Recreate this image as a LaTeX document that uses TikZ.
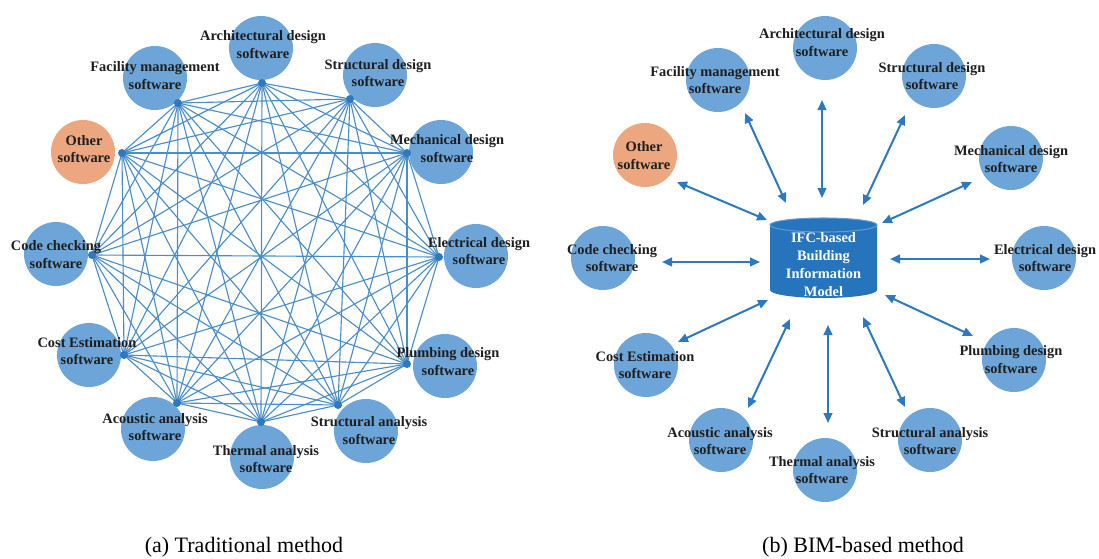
\documentclass[tikz,border=0pt]{standalone}
\usepackage{fontspec}
\setmainfont{Liberation Serif}
\usetikzlibrary{arrows.meta}
\definecolor{circ}{HTML}{6DA5D8}
\definecolor{orng}{HTML}{EDA780}
\definecolor{webc}{HTML}{4A8DCB}
\definecolor{arrc}{HTML}{2D78BE}
\definecolor{cylc}{HTML}{2574BC}
\definecolor{cyltop}{HTML}{5E9BD3}
\definecolor{txt}{HTML}{1E1E1E}
\tikzset{
  soft/.style={circle, fill=circ, draw=none, minimum size=48pt, inner sep=0pt},
  softo/.style={soft, fill=orng},
  lbl/.style={align=center, font=\fontsize{10.8}{13}\selectfont\bfseries, text=txt, inner sep=0pt},
  web/.style={draw=webc, line width=0.85pt},
  dotmark/.style={fill=arrc},
  biarrow/.style={draw=arrc, line width=1.5pt, arrows={Triangle[length=7.5pt,width=6.5pt]-Triangle[length=7.5pt,width=6.5pt]}},
  captxt/.style={font=\fontsize{16.5}{19}\selectfont, inner sep=0pt}
}
\begin{document}
\begin{tikzpicture}[x=0.75pt,y=-0.75pt]
\useasboundingbox (0,0) rectangle (1099,558);
\fill[white] (0,0) rectangle (1099,558);

% ================= (a) Traditional method =================
\node[soft]  (lc1)  at (261,48)  {};
\node[soft]  (lc2)  at (375,75)  {};
\node[soft]  (lc3)  at (441,152) {};
\node[soft]  (lc4)  at (476,256) {};
\node[soft]  (lc5)  at (445,366) {};
\node[soft]  (lc6)  at (366,431) {};
\node[soft]  (lc7)  at (262,457) {};
\node[soft]  (lc8)  at (153,429) {};
\node[soft]  (lc9)  at (89,355)  {};
\node[soft]  (lc10) at (56,254)  {};
\node[softo] (lc11) at (83,152)  {};
\node[soft]  (lc12) at (155,78)  {};

\coordinate (la1)  at (262,83);
\coordinate (la2)  at (350,99);
\coordinate (la3)  at (407,153);
\coordinate (la4)  at (439,257);
\coordinate (la5)  at (407,364);
\coordinate (la6)  at (338,405);
\coordinate (la7)  at (261,422);
\coordinate (la8)  at (177,403);
\coordinate (la9)  at (124,355);
\coordinate (la10) at (92,255);
\coordinate (la11) at (122,153);
\coordinate (la12) at (178,103);

\foreach \i in {1,...,11}{
  \pgfmathtruncatemacro\jfirst{\i+1}
  \foreach \j in {\jfirst,...,12}{
    \draw[web] (la\i) -- (la\j);
  }
}
\foreach \i in {1,...,12}{\fill[dotmark] (la\i) circle[radius=4];}

\node[lbl] (lt1)  at (263,44.5)  {Architectural design\\software};
\node[lbl] (lt2)  at (378,73)    {Structural design\\software};
\node[lbl] (lt3)  at (447,148.5) {Mechanical design\\software};
\node[lbl] (lt4)  at (479,251)   {Electrical design\\software};
\node[lbl] (lt5)  at (448,361.5) {Plumbing design\\software};
\node[lbl] (lt6)  at (369,430.5) {Structural analysis\\software};
\node[lbl] (lt7)  at (266,459)   {Thermal analysis\\software};
\node[lbl] (lt8)  at (155,427)   {Acoustic analysis\\software};
\node[lbl] (lt9)  at (87,351)    {Cost Estimation\\software};
\node[lbl] (lt10) at (56,254.5)  {Code checking\\software};
\node[lbl] (lt11) at (84,149)    {Other\\software};
\node[lbl] (lt12) at (155,75.5)  {Facility management\\software};

\node[captxt] (capa) at (244,547) {(a) Traditional method};

% ================= (b) BIM-based method =================
\node[soft]  (rc1)  at (825,48)  {};
\node[soft]  (rc2)  at (934,76)  {};
\node[soft]  (rc3)  at (1011,158) {};
\node[soft]  (rc4)  at (1044,258) {};
\node[soft]  (rc5)  at (1014,360) {};
\node[soft]  (rc6)  at (930,440) {};
\node[soft]  (rc7)  at (825,470) {};
\node[soft]  (rc8)  at (721,440) {};
\node[soft]  (rc9)  at (646,365) {};
\node[soft]  (rc10) at (603,258) {};
\node[softo] (rc11) at (645,155) {};
\node[soft]  (rc12) at (718,80)  {};

\node[lbl] (rt1)  at (822,42.5)  {Architectural design\\software};
\node[lbl] (rt2)  at (932,76)    {Structural design\\software};
\node[lbl] (rt3)  at (1011,159)  {Mechanical design\\software};
\node[lbl] (rt4)  at (1045,258)  {Electrical design\\software};
\node[lbl] (rt5)  at (1011,359.5){Plumbing design\\software};
\node[lbl] (rt6)  at (930,441)   {Structural analysis\\software};
\node[lbl] (rt7)  at (822,470)   {Thermal analysis\\software};
\node[lbl] (rt8)  at (720,441)   {Acoustic analysis\\software};
\node[lbl] (rt9)  at (645,365)   {Cost Estimation\\software};
\node[lbl] (rt10) at (612,258)   {Code checking\\software};
\node[lbl] (rt11) at (644,155.5) {Other\\software};
\node[lbl] (rt12) at (715,80)    {Facility management\\software};

% central cylinder
\fill[cylc] (770,225) -- (770,290) arc[start angle=180,end angle=0,x radius=53.5,y radius=8] -- (877,225) -- cycle;
\filldraw[fill=cylc, draw=cyltop, line width=0.8pt] (823.5,225) ellipse[x radius=53.5, y radius=7];
\node[lbl, text=white, font=\fontsize{10.8}{13.5}\selectfont\bfseries] (bim) at (823.5,264.5) {IFC-based\\Building\\Information\\Model};

% arrow end points
\coordinate (a1o) at (822,100); \coordinate (a1i) at (822,198);
\coordinate (a2o) at (905,115); \coordinate (a2i) at (863,205);
\coordinate (a3o) at (972,182); \coordinate (a3i) at (882,223);
\coordinate (a4o) at (990,259); \coordinate (a4i) at (890,259);
\coordinate (a5o) at (973,336); \coordinate (a5i) at (885,295);
\coordinate (a6o) at (905,407); \coordinate (a6i) at (863,317);
\coordinate (a7o) at (828,423); \coordinate (a7i) at (828,325);
\coordinate (a8o) at (748,408); \coordinate (a8i) at (790,319);
\coordinate (a9o) at (678,342); \coordinate (a9i) at (768,300);
\coordinate (a10o) at (662,262); \coordinate (a10i) at (760,262);
\coordinate (a11o) at (677,182); \coordinate (a11i) at (767,220);
\coordinate (a12o) at (745,113); \coordinate (a12i) at (786,203);

\foreach \k in {1,...,12}{\draw[biarrow] (a\k i) -- (a\k o);}

\node[captxt] (capb) at (863,547) {(b) BIM-based method};
\end{tikzpicture}
\end{document}
